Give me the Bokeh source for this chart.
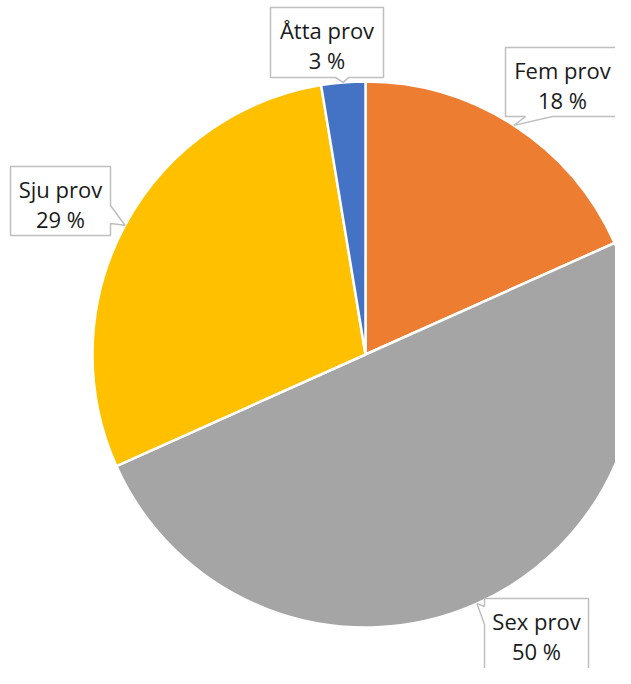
import math
from bokeh.plotting import figure
from bokeh.models import Range1d
from bokeh.core.properties import value
from bokeh.embed import file_html
from bokeh.resources import INLINE

# ---- data ----
categories = ["Fem prov", "Sex prov", "Sju prov", "Åtta prov"]
shares = [18.3, 50.0, 29.1, 2.6]
colors = ["#ED7D31", "#A5A5A5", "#FFC000", "#4472C4"]

# ---- layout (picture pixel coordinates, y downward) ----
PAGE_H = 684
W, H = 615, 668
CX, CY, R = 365, 354, 273
# callout boxes: (left, top, right, bottom, pointer side, base1, base2)
boxes = [
    (505, 47, 619, 116, "bottom", 525, 552),
    (484, 598, 588, 700, "left", 606, 624),
    (10, 166, 110, 235, "right", 205, 223),
    (270, 7, 383, 77, "bottom", 335, 348),
]
FONT = "Open Sans"
FSIZE = "22px"


def Y(yp):
    return PAGE_H - yp


p = figure(width=W, height=H, output_backend="svg", toolbar_location=None,
           x_range=Range1d(0, W), y_range=Range1d(PAGE_H - H, PAGE_H),
           x_axis_location=None, y_axis_location=None,
           min_border=0, min_border_left=0, min_border_right=0,
           min_border_top=0, min_border_bottom=0)
p.outline_line_color = None
p.grid.visible = False
p.background_fill_color = "white"
p.border_fill_color = "white"

total = sum(shares)
cum = 0.0
starts, ends, mids = [], [], []
for s in shares:
    a0 = cum / total
    cum += s
    a1 = cum / total
    # clockwise from 12 o'clock
    starts.append(math.pi / 2 - a1 * 2 * math.pi)
    ends.append(math.pi / 2 - a0 * 2 * math.pi)
    mids.append((a0 + a1) / 2 * 2 * math.pi)

p.wedge(x=[CX] * len(shares), y=[Y(CY)] * len(shares), radius=R,
        start_angle=starts, end_angle=ends, direction="anticlock",
        fill_color=colors, line_color="white", line_width=2.5)

for i, (cat, s) in enumerate(zip(categories, shares)):
    l, t, r, b, side, b1, b2 = boxes[i]
    tx = CX + R * math.sin(mids[i])
    ty = CY - R * math.cos(mids[i])
    if side == "bottom":
        pts = [(l, t), (r, t), (r, b), (b2, b), (tx, ty), (b1, b), (l, b)]
    elif side == "top":
        pts = [(l, t), (b1, t), (tx, ty), (b2, t), (r, t), (r, b), (l, b)]
    elif side == "right":
        pts = [(l, t), (r, t), (r, b1), (tx, ty), (r, b2), (r, b), (l, b)]
    else:
        pts = [(l, t), (r, t), (r, b), (l, b), (l, b2), (tx, ty), (l, b1)]
    p.patch([q[0] for q in pts], [Y(q[1]) for q in pts],
            fill_color="white", line_color="#BFBFBF", line_width=1.5)
    cx = (l + r) / 2
    p.text(x=[cx], y=[Y(t + 22)], text=[cat], text_align="center",
           text_baseline="middle", text_font=value(FONT),
           text_font_size=FSIZE, text_color="#1a1a1a")
    p.text(x=[cx], y=[Y(t + 52)], text=[f"{round(s / total * 100)} %"],
           text_align="center", text_baseline="middle", text_font=value(FONT),
           text_font_size=FSIZE, text_color="#1a1a1a")

open("out.html", "w").write(file_html(p, INLINE))
